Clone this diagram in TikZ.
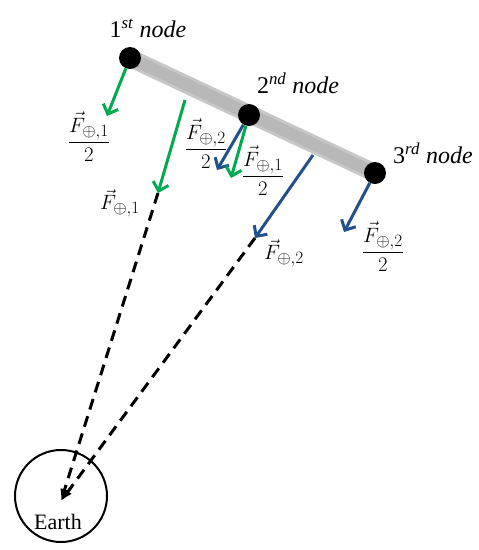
\documentclass[tikz,border=0pt]{standalone}
\usepackage{amsmath,amssymb}
\usepackage{fontspec}
\setmainfont{Liberation Serif}[ItalicFont={Liberation Serif Italic}]
\usetikzlibrary{arrows.meta}
\DeclareMathSizes{20.74}{20.74}{17.28}{14.4}

\definecolor{fgreen}{RGB}{0,170,80}
\definecolor{fblue}{RGB}{33,80,140}

\begin{document}
\begin{tikzpicture}[
x=1pt, y=-1pt,
mass/.style={circle, fill=black, inner sep=0pt, minimum size=22pt},
earthbox/.style={circle, draw, line width=2pt, inner sep=0pt, minimum size=92pt},
lbl/.style={font=\fontsize{24}{26}\selectfont, inner sep=0pt},
flbl/.style={font=\huge, inner sep=0pt},
garrow/.style={-{Straight Barb[length=8pt,width=16pt,line width=3pt]}, line width=3pt, fgreen},
barrow/.style={-{Straight Barb[length=8pt,width=16pt,line width=3pt]}, line width=3pt, fblue},
pull/.style={dash pattern=on 11pt off 7pt, line width=3pt, -{Latex[length=12pt,width=9pt]}}
]
\useasboundingbox (0,0) rectangle (479,550);

% Tether
\coordinate (p1) at (130,58);
\coordinate (p3) at (375,173);
\draw[line width=18pt, black!22] (p1) -- (p3);
\draw[line width=12pt, black!28] (p1) -- (p3);

% Masses
\node[mass] (n1) at (p1) {};
\node[mass] (n2) at (249,115) {};
\node[mass] (n3) at (p3) {};

\node[lbl] (l1) at (148,28) {1\textsuperscript{\textit{st}} \textit{node}};
\node[lbl] (l2) at (298,83) {2\textsuperscript{\textit{nd}} \textit{node}};
\node[lbl] (l3) at (433,153) {3\textsuperscript{\textit{rd}} \textit{node}};

% Earth
\node[earthbox] (earth) at (61,496) {};
\node[font=\fontsize{22}{24}\selectfont, inner sep=0pt] (elbl) at (58,522) {Earth};
\coordinate (ec) at (61,501);

% Force ends
\coordinate (g1) at (107,116);
\coordinate (c1) at (185,100);
\coordinate (g2) at (158,193);
\coordinate (b2) at (217,170);
\coordinate (g3) at (231,178);
\coordinate (c2) at (313,155);
\coordinate (b3) at (255,238);
\coordinate (b4) at (344,232);

% Lines to Earth
\draw[pull] (g2) -- (ec);
\draw[pull] (b3) -- (ec);

% Forces
\draw[garrow] (n1) -- (g1);
\draw[garrow] (c1) -- (g2);
\draw[barrow] (n2) -- (b2);
\draw[garrow] (n2) -- (g3);
\draw[barrow] (c2) -- (b3);
\draw[barrow] (n3) -- (b4);

\node[flbl] (f1) at (89,137) {$\dfrac{\vec{F}_{\oplus,1}}{2}$};
\node[flbl] (f2) at (120,203) {$\vec{F}_{\oplus,1}$};
\node[flbl] (f3) at (206,144) {$\dfrac{\vec{F}_{\oplus,2}}{2}$};
\node[flbl] (f4) at (263,171) {$\dfrac{\vec{F}_{\oplus,1}}{2}$};
\node[flbl] (f5) at (284,253) {$\vec{F}_{\oplus,2}$};
\node[flbl] (f6) at (383,247) {$\dfrac{\vec{F}_{\oplus,2}}{2}$};

\end{tikzpicture}
\end{document}
